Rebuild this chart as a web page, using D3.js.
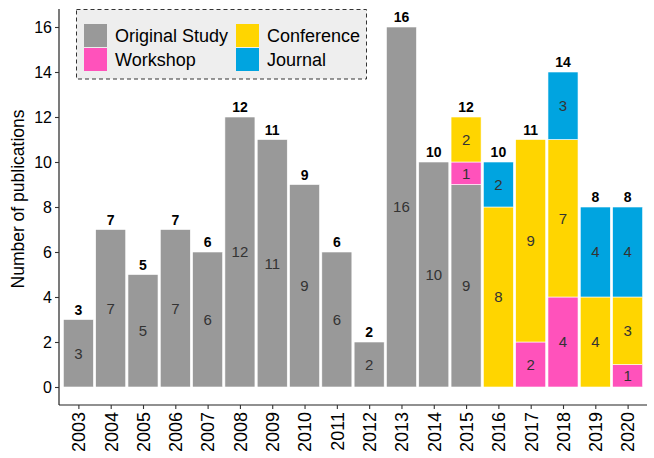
<!DOCTYPE html>
<html><head><meta charset="utf-8">
<script src="https://cdn.jsdelivr.net/npm/d3@7"></script>
<style>body{margin:0;background:#fff}svg{display:block;font-family:"Liberation Sans",Arial,sans-serif}</style>
</head><body><svg id="c" width="654" height="458"></svg>
<script>
const years = ["2003","2004","2005","2006","2007","2008","2009","2010","2011","2012","2013","2014","2015","2016","2017","2018","2019","2020"];
const seriesNames = ["Original Study","Workshop","Conference","Journal"];
const seriesColors = ["#999999","#FF52BB","#FFD500","#00A4E0"];
const originalStudy = [3,7,5,7,6,12,11,9,6,2,16,10,9,0,0,0,0,0];
const workshop      = [0,0,0,0,0,0,0,0,0,0,0,0,1,0,2,4,0,1];
const conference    = [0,0,0,0,0,0,0,0,0,0,0,0,2,8,9,7,4,3];
const journal       = [0,0,0,0,0,0,0,0,0,0,0,0,0,2,0,3,4,4];
const yTicks = [0,2,4,6,8,10,12,14,16];

const svg = d3.select("#c");
const rows = years.map((y,i)=>({year:y,"Original Study":originalStudy[i],"Workshop":workshop[i],"Conference":conference[i],"Journal":journal[i]}));
const stack = d3.stack().keys(seriesNames)(rows);

const x = d3.scalePoint().domain(years).range([59,647]).padding(0.6);
const bw = x.step()*0.93;
const y = d3.scaleLinear().domain([-0.8,16.8]).range([405,9]);
const color = d3.scaleOrdinal().domain(seriesNames).range(seriesColors);

// legend (drawn first so bar labels stay visible)
const lg = svg.append("g");
lg.append("rect").attr("x",76.5).attr("y",9.5).attr("width",290).attr("height",69.5)
  .attr("fill","#eeeeee").attr("stroke","#333").attr("stroke-dasharray","4,3").attr("stroke-width",1);
const pos = [[84,24],[84,48],[236,24],[236,48]];
seriesNames.forEach((n,i)=>{
  const [px,py]=pos[i];
  lg.append("rect").attr("x",px).attr("y",py).attr("width",23).attr("height",23).attr("fill",color(n));
  lg.append("text").attr("x",px+31).attr("y",py+11.5).attr("dy","0.35em").attr("font-size",18).attr("fill","#000").text(n);
});

// bars
const g = svg.append("g");
stack.forEach(s=>{
  s.forEach((d,i)=>{
    const v = d[1]-d[0];
    if(v<=0) return;
    const xc = x(years[i]);
    g.append("rect").attr("x",xc-bw/2).attr("width",bw)
      .attr("y",y(d[1])).attr("height",y(d[0])-y(d[1]))
      .attr("fill",color(s.key)).attr("stroke","#fff").attr("stroke-width",0.6);
    g.append("text").attr("x",xc).attr("y",y((d[0]+d[1])/2)).attr("dy","0.35em")
      .attr("text-anchor","middle").attr("font-size",15).attr("fill","#333").text(v);
  });
});
// totals
rows.forEach((r,i)=>{
  const t = seriesNames.reduce((a,k)=>a+r[k],0);
  svg.append("text").attr("x",x(r.year)).attr("y",y(t)-5)
    .attr("text-anchor","middle").attr("font-size",14).attr("font-weight","bold").attr("fill","#000").text(t);
});

// axes
const ya = svg.append("g").attr("transform","translate(59,0)")
  .call(d3.axisLeft(y).tickValues(yTicks).tickSize(4).tickPadding(3));
const xa = svg.append("g").attr("transform","translate(0,405)")
  .call(d3.axisBottom(x).tickSize(4).tickPadding(3));
[ya,xa].forEach(a=>{
  a.select(".domain").attr("stroke","#222").attr("stroke-width",1.2);
  a.selectAll(".tick line").attr("stroke","#333").attr("stroke-width",1.1);
  a.selectAll(".tick text").attr("fill","#000").attr("font-family","Liberation Sans, Arial, sans-serif");
});
ya.selectAll(".tick text").attr("font-size",16);
xa.selectAll(".tick text").attr("font-size",18);
ya.select(".domain").attr("d","M0,9V405");
xa.select(".domain").attr("d","M59,0H647");
xa.selectAll(".tick text").attr("transform","rotate(-90)").attr("text-anchor","end")
  .attr("x",-7).attr("y",0).attr("dy","0.35em");

svg.append("text").attr("transform","translate(24,199) rotate(-90)")
  .attr("text-anchor","middle").attr("font-size",17.5).attr("fill","#000").text("Number of publications");
</script></body></html>
